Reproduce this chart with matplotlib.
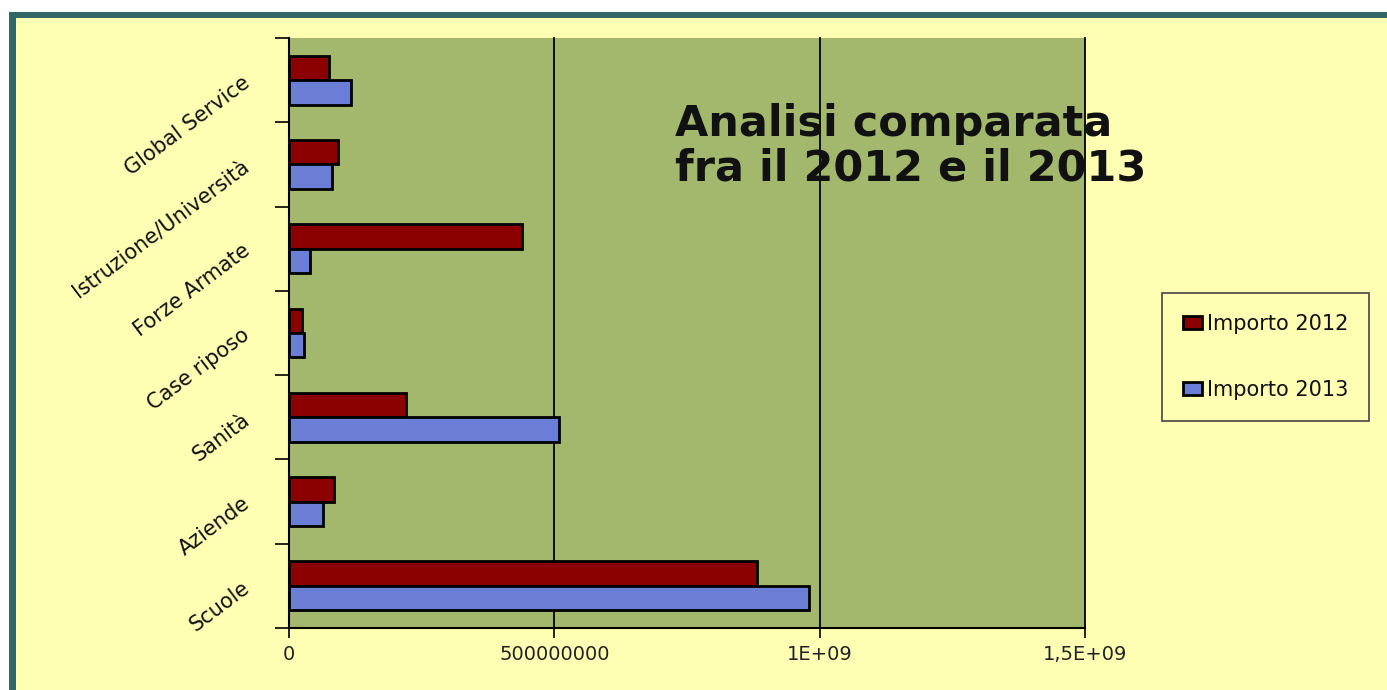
import matplotlib.pyplot as plt
import numpy as np
from matplotlib.patches import Rectangle

categories = ["Scuole", "Aziende", "Sanità", "Case riposo", "Forze Armate",
              "Istruzione/Università", "Global Service"]
importo_2012 = [881e6, 85e6, 221e6, 25e6, 440e6, 92e6, 75e6]
importo_2013 = [979e6, 64e6, 508e6, 28e6, 40e6, 81e6, 117e6]
x_ticks = [0, 5e8, 1e9, 1.5e9]
x_tick_labels = ["0", "500000000", "1E+09", "1,5E+09"]

W, H = 1387, 690
fig = plt.figure(figsize=(W / 100, H / 100), dpi=100, facecolor="white")

# teal frame + yellow slide background
fig.patches.append(Rectangle((9 / W, 0), 1, 1 - 12 / H, transform=fig.transFigure,
                             facecolor="#336666", edgecolor="none", zorder=-3))
fig.patches.append(Rectangle((16 / W, 0), 1, 1 - 18 / H, transform=fig.transFigure,
                             facecolor="#FFFFB4", edgecolor="none", zorder=-2))

ax = fig.add_axes([289 / W, 1 - 628 / H, (1085 - 289) / W, (628 - 38) / H])
ax.set_facecolor("#A3B86C")

y = np.arange(len(categories))
h = 0.29
ax.barh(y + h / 2, importo_2012, height=h, color="#8B0000", edgecolor="black",
        linewidth=2.0, label="Importo 2012", zorder=3)
ax.barh(y - h / 2, importo_2013, height=h, color="#6B7ED6", edgecolor="black",
        linewidth=2.0, label="Importo 2013", zorder=3)

ax.set_xlim(0, 1.5e9)
ax.set_ylim(-0.5, len(categories) - 0.5)
ax.set_xticks(x_ticks)
ax.set_xticklabels(x_tick_labels, fontsize=14, color="#222222",
                   family="DejaVu Sans")
ax.tick_params(axis="x", length=7, width=1.2, pad=5)
ax.grid(True, axis="x", color="black", linewidth=1.3, zorder=1)
for gl in ax.get_xgridlines():
    gl.set_clip_on(False)

ax.set_yticks(np.arange(len(categories) + 1) - 0.5)
ax.set_yticklabels([])
ax.tick_params(axis="y", which="major", length=10, width=1.2)
ax.set_yticks(y, minor=True)
ax.set_yticklabels(categories, minor=True, rotation=37, ha="right", va="center",
                   rotation_mode="anchor", fontsize=15, family="DejaVu Sans",
                   color="#111111")
ax.tick_params(axis="y", which="minor", length=0, pad=30)

for s in ["top", "right"]:
    ax.spines[s].set_visible(False)
for s in ["left", "bottom"]:
    ax.spines[s].set_linewidth(1.5)

ax.text(675 / W, 1 - 180 / H, "Analisi comparata\nfra il 2012 e il 2013",
        transform=fig.transFigure, fontsize=31, fontweight="bold",
        family="DejaVu Sans", va="baseline", ha="left", linespacing=1.05,
        color="#111111")

leg = fig.legend(loc="center left", bbox_to_anchor=(1162 / W, 1 - 357 / H),
                 prop={"family": "DejaVu Sans", "size": 15},
                 handlelength=0.9, handleheight=0.6, handletextpad=0.25,
                 labelspacing=2.2, borderpad=1.0, borderaxespad=0,
                 fancybox=False, facecolor="#FFFFB4", edgecolor="#444444",
                 framealpha=1)
leg.get_frame().set_linewidth(1.2)
for t in leg.get_texts():
    t.set_color("#111111")

fig.savefig("out.png", dpi=100, facecolor=fig.get_facecolor())
